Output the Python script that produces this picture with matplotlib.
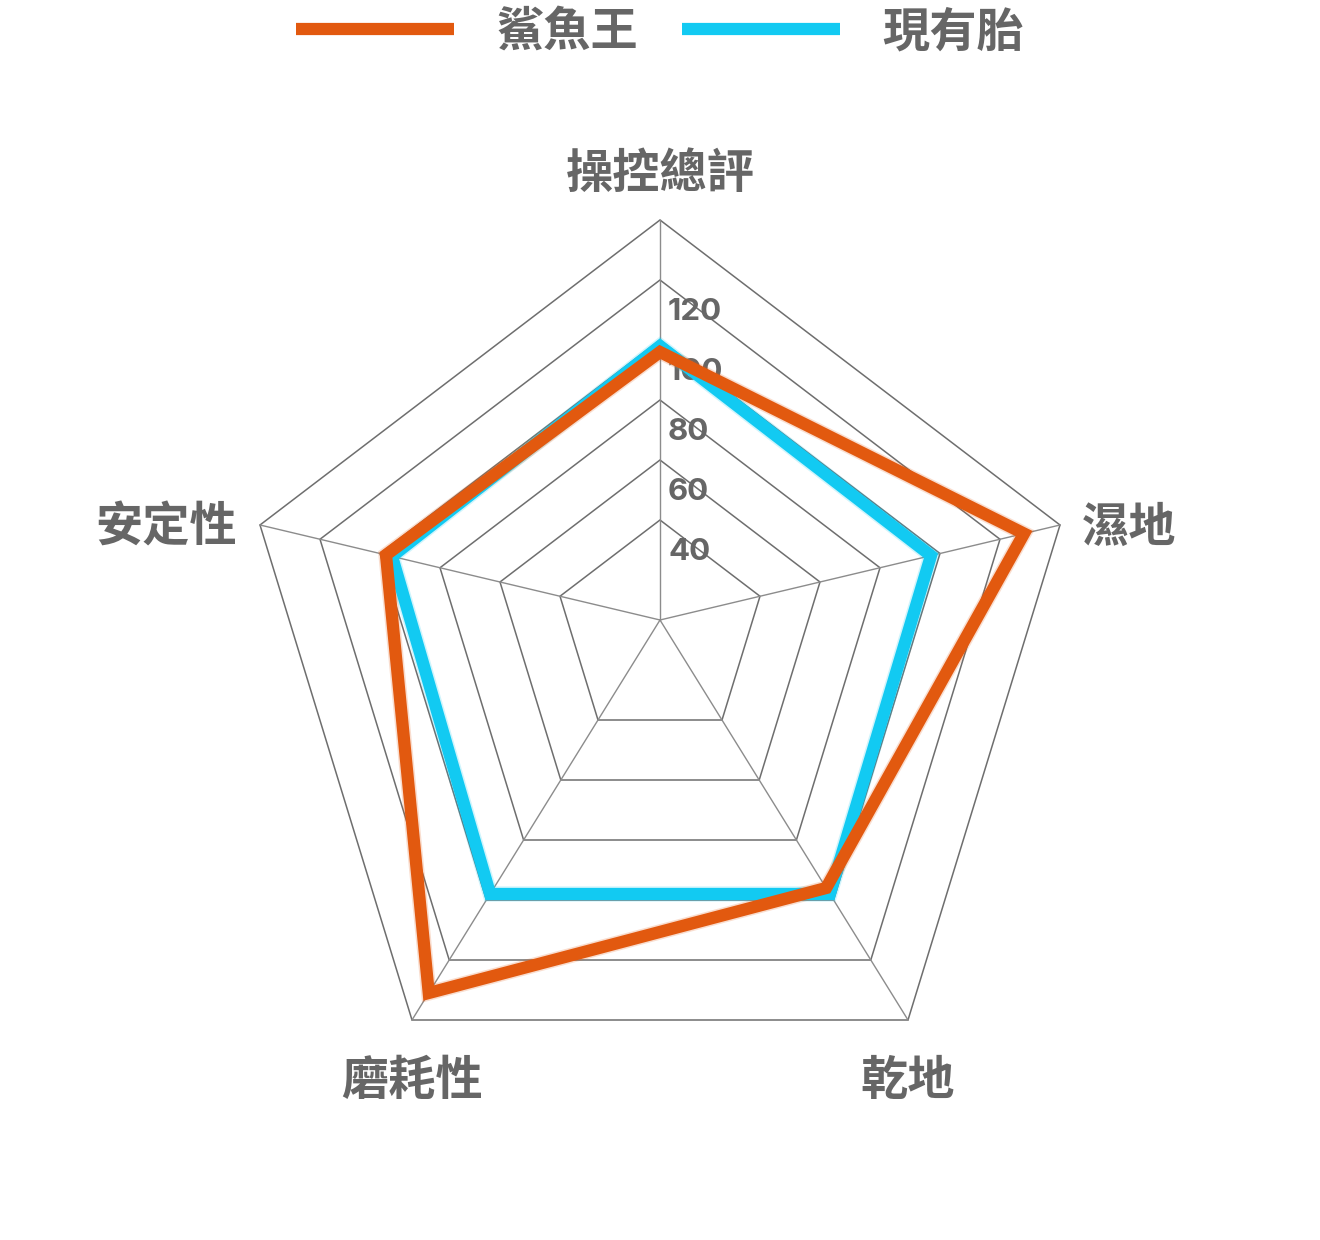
import matplotlib
matplotlib.use('Agg')
import matplotlib.pyplot as plt
from matplotlib.lines import Line2D
from matplotlib.patches import Polygon
import numpy as np

plt.rcParams['font.family'] = ['Noto Sans CJK TC', 'DejaVu Sans']

# data
categories = ['操控總評', '濕地', '乾地', '磨耗性', '安定性']
series_names = ['鯊魚王', '現有胎']
shark_king = [96, 128, 96, 131, 98]
current_tire = [98, 97, 98, 98, 96]
ring_values = [40, 60, 80, 100, 120, 140]
tick_values = [40, 60, 80, 100, 120]

ORANGE = '#e2590f'
CYAN = '#12caf2'
GRID = '#6e6e6e'
SPOKE = '#8c8c8c'
TEXT = '#666666'
PX = 0.72  # points per pixel at dpi 100

# spoke directions - the reference pentagon is squashed, not regular
spokes = np.array([[0.0, 1.0], [1.0, 0.2375], [0.62, -1.0],
                   [-0.62, -1.0], [-1.0, 0.2375]])


def radius(v):
    # axis runs so that 40 sits at 0.25 and 140 at the rim
    return 0.25 + 0.75 * (np.asarray(v, float) - 40) / 100


def vertices(values):
    return spokes * radius(values)[:, None]


fig = plt.figure(figsize=(13.2, 12.4), dpi=100)
ax = fig.add_axes([0, 0, 1, 1])
ax.set_xlim(-1.65, 1.65)
ax.set_ylim(-1.55, 1.55)
ax.axis('off')

# grid rings and spokes
for v in ring_values:
    ax.add_patch(Polygon(vertices([v] * len(categories)), closed=True,
                         fill=False, edgecolor=GRID, lw=1.1, zorder=1))
for d in spokes:
    ax.plot([0, d[0]], [0, d[1]], color=SPOKE, lw=1.0, zorder=1)

# tick labels along the top spoke
for v in tick_values:
    ax.annotate(str(v), (0, radius(v)), xytext=(8 * PX, -32 * PX),
                textcoords='offset points', ha='left', va='center',
                fontsize=22.5, fontweight='bold', color=TEXT,
                family=['Inter', 'DejaVu Sans'], zorder=2)

# series, cyan under orange, with a soft halo
for vals, col in [(current_tire, CYAN), (shark_king, ORANGE)]:
    p = vertices(vals)
    ax.add_patch(Polygon(p, closed=True, fill=False, edgecolor=col,
                         lw=11, alpha=0.2, joinstyle='miter', zorder=3))
    ax.add_patch(Polygon(p, closed=True, fill=False, edgecolor=col,
                         lw=8.8, joinstyle='miter', zorder=4))

# category labels around the rim
offsets = [((0, 46), 'center', 'center'),
           ((22, -3), 'left', 'center'),
           ((0, -61), 'center', 'center'),
           ((0, -61), 'center', 'center'),
           ((-23, -3), 'right', 'center')]
for name, d, (off, ha, va) in zip(categories, spokes, offsets):
    ax.annotate(name, (d[0], d[1]), xytext=(off[0] * PX, off[1] * PX),
                textcoords='offset points', ha=ha, va=va,
                fontsize=34, fontweight='bold', color=TEXT)

handles = [Line2D([], [], color=ORANGE, lw=8.8, solid_capstyle='butt'),
           Line2D([], [], color=CYAN, lw=8.8, solid_capstyle='butt')]
ax.legend(handles, series_names, loc='center', ncol=2,
          bbox_to_anchor=(0.5, 1 - 32 / 1240), frameon=False,
          prop={'size': 34, 'weight': 'bold'}, labelcolor=TEXT,
          handlelength=3.35, handletextpad=0.9, columnspacing=0.92)

fig.savefig('out.png', dpi=100, facecolor='white')
